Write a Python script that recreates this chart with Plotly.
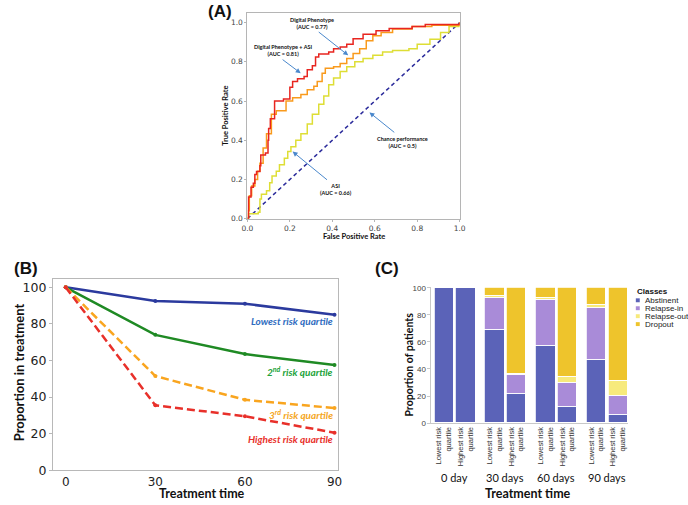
import plotly.graph_objects as go

W, H = 688, 505

# ---- panel A: ROC curves ----
dp_asi_fpr = [0, 0.005, 0.017, 0.028, 0.035, 0.043, 0.059, 0.063, 0.085, 0.097, 0.10, 0.108,
              0.128, 0.17, 0.20, 0.213, 0.236, 0.267, 0.282, 0.306, 0.321, 0.336, 0.383,
              0.406, 0.437, 0.468, 0.498, 0.545, 0.606, 0.668, 0.776, 0.838, 1.0]
dp_asi_tpr = [0, 0.11, 0.16, 0.18, 0.225, 0.24, 0.27, 0.325, 0.335, 0.40, 0.46, 0.51,
              0.60, 0.61, 0.67, 0.70, 0.713, 0.725, 0.76, 0.78, 0.825, 0.84, 0.85,
              0.867, 0.875, 0.89, 0.917, 0.94, 0.958, 0.97, 0.98, 0.99, 1.0]
dp_fpr = [0, 0.005, 0.009, 0.02, 0.035, 0.048, 0.059, 0.074, 0.09, 0.113, 0.136, 0.182,
          0.213, 0.252, 0.282, 0.313, 0.329, 0.352, 0.367, 0.406, 0.437, 0.468, 0.498,
          0.529, 0.56, 0.591, 0.63, 0.684, 0.776, 0.869, 1.0]
dp_tpr = [0, 0.04, 0.117, 0.167, 0.20, 0.242, 0.283, 0.36, 0.433, 0.533, 0.55, 0.60,
          0.617, 0.633, 0.658, 0.675, 0.70, 0.742, 0.767, 0.775, 0.792, 0.817, 0.842,
          0.867, 0.908, 0.933, 0.95, 0.967, 0.98, 0.987, 1.0]
asi_fpr = [0, 0.005, 0.051, 0.059, 0.066, 0.09, 0.105, 0.116, 0.136, 0.151, 0.174, 0.19,
           0.205, 0.228, 0.252, 0.282, 0.306, 0.336, 0.36, 0.383, 0.406, 0.437, 0.468,
           0.506, 0.545, 0.591, 0.637, 0.684, 0.761, 0.80, 0.86, 0.91, 0.95, 1.0]
asi_tpr = [0, 0.025, 0.033, 0.10, 0.125, 0.142, 0.183, 0.217, 0.242, 0.275, 0.308, 0.342,
           0.367, 0.40, 0.433, 0.483, 0.533, 0.583, 0.625, 0.683, 0.717, 0.75, 0.775,
           0.80, 0.817, 0.833, 0.85, 0.858, 0.867, 0.89, 0.915, 0.95, 0.98, 1.0]
chance = [0, 1]

# ---- panel B: proportion in treatment by risk quartile ----
days = [0, 30, 60, 90]
lowest_q = [100, 92.5, 91, 85]
second_q = [100, 74, 63.5, 57.5]
third_q = [100, 51.5, 38.5, 34]
highest_q = [100, 35.5, 29.5, 20.5]

# ---- panel C: outcome classes ----
groups = ["0 day", "30 days", "60 days", "90 days"]
quartiles = ["Lowest risk<br>quartile", "Highest risk<br>quartile"]
abstinent = [100, 100, 69, 22, 57, 12, 46.5, 6]
relapse_in = [0, 0, 24, 13.5, 34.5, 18, 39, 14.5]
relapse_out = [0, 0, 1.5, 1.2, 1.5, 4.3, 1.8, 10.5]
dropout = [0, 0, 5.5, 63.3, 7, 65.7, 12.7, 69]
class_names = ["Abstinent", "Relapse-in", "Relapse-out", "Dropout"]
class_colors = ["#5b63b8", "#a98bd8", "#f7ea7c", "#eec42c"]

LABEL_FONT = "Lato"


def px(x):
    return x / W


def py(y):
    return 1 - y / H


fig = go.Figure()

# A
fig.add_trace(go.Scatter(x=chance, y=chance, mode="lines", xaxis="x", yaxis="y",
                         line=dict(color="#2b2b9b", width=1.5, dash="4px,3px")))
for xs, ys, col in ((asi_fpr, asi_tpr, "#dede35"), (dp_fpr, dp_tpr, "#f99a1c"),
                    (dp_asi_fpr, dp_asi_tpr, "#e8251f")):
    fig.add_trace(go.Scatter(x=xs, y=ys, mode="lines", xaxis="x", yaxis="y",
                             line=dict(color=col, width=1.5, shape="hv")))

# B
b_series = [
    (lowest_q, "#2b3a9e", "solid"),
    (second_q, "#1f8a24", "solid"),
    (third_q, "#f9a51f", "8px,4px"),
    (highest_q, "#e8302a", "8px,4px"),
]
for vals, col, dash in b_series:
    fig.add_trace(go.Scatter(x=days, y=vals, mode="lines+markers", xaxis="x2", yaxis="y2",
                             line=dict(color=col, width=2.5, dash=dash),
                             marker=dict(color=col, size=4)))

# C
bar_x = []
for g in range(len(groups)):
    for i in range(len(quartiles)):
        bar_x.append(g * 2.35 + i)
for vals, name, col in zip((abstinent, relapse_in, relapse_out, dropout), class_names, class_colors):
    fig.add_trace(go.Bar(x=bar_x, y=vals, name=name, xaxis="x3", yaxis="y3", width=0.9,
                         marker=dict(color=col, line=dict(color="white", width=0.8))))

grid_off = dict(showgrid=False, zeroline=False)
fig.update_layout(
    width=W, height=H, margin=dict(l=0, r=0, t=0, b=0),
    plot_bgcolor="white", paper_bgcolor="white",
    showlegend=False, barmode="stack", bargap=0,
    xaxis=dict(domain=[px(245.7), px(461.7)], range=[0, 1], anchor="y",
               tickvals=[0, 0.2, 0.4, 0.6, 0.8, 1.0], tickformat=".1f",
               showline=True, mirror=True, linecolor="#b5b5b5", linewidth=1,
               ticks="outside", ticklen=2, tickcolor="#b5b5b5",
               tickfont=dict(family="DejaVu Sans", size=7.5, color="#444"), **grid_off),
    yaxis=dict(domain=[py(220), py(10)], range=[0, 1.05], anchor="x",
               tickvals=[0, 0.2, 0.4, 0.6, 0.8, 1.0], tickformat=".1f",
               showline=True, mirror=True, linecolor="#b5b5b5", linewidth=1,
               ticks="outside", ticklen=2, tickcolor="#b5b5b5",
               tickfont=dict(family="DejaVu Sans", size=7.5, color="#444"), **grid_off),
    xaxis2=dict(domain=[px(47.7), px(338)], range=[-4.3, 91.2], anchor="y2",
                tickvals=days, showline=True, mirror=True, linecolor="#b8b8b8",
                ticks="",
                tickfont=dict(family="DejaVu Sans", size=12, color="#222"), **grid_off),
    yaxis2=dict(domain=[py(476.7), py(282)], range=[0, 104.3], anchor="x2",
                tickvals=[0, 20, 40, 60, 80, 100], showline=True, mirror=True,
                linecolor="#b8b8b8", ticks="outside", ticklen=3, tickcolor="#b8b8b8",
                tickfont=dict(family="DejaVu Sans", size=12.5, color="#222"), **grid_off),
    xaxis3=dict(domain=[px(433), px(633)], range=[-0.57, 8.52], anchor="y3",
                tickvals=bar_x, ticktext=quartiles * len(groups), tickangle=-90,
                showline=True, linecolor="#c8c8c8", ticks="",
                tickfont=dict(family="Liberation Sans", size=7.5, color="#333"), **grid_off),
    yaxis3=dict(domain=[py(428.5), py(289.5)], range=[0, 100.9], anchor="x3",
                tickvals=[0, 20, 40, 60, 80, 100], showline=True, linecolor="#c8c8c8",
                ticks="outside", ticklen=3, tickcolor="#c8c8c8",
                tickfont=dict(family="Liberation Sans", size=8, color="#444"), **grid_off),
)

ann = []


def text(x, y, s, size, color="#111", bold=True, italic=False, family=LABEL_FONT,
         angle=0, xanchor="center", yanchor="middle", xref="paper", yref="paper"):
    if bold:
        s = f"<b>{s}</b>"
    if italic:
        s = f"<i>{s}</i>"
    ann.append(dict(x=x, y=y, xref=xref, yref=yref, text=s, showarrow=False,
                    textangle=angle, xanchor=xanchor, yanchor=yanchor,
                    font=dict(family=family, size=size, color=color)))


# panel letters
text(px(217.5), py(9), "(A)", 17, family="Liberation Sans")
text(px(20), py(271), "(B)", 17, family="Liberation Sans")
text(px(388), py(271), "(C)", 17, family="Liberation Sans")

# A axis titles + curve labels
text(px(353.7), py(238), "False Positive Rate", 7.5)
text(px(224), py(115), "True Positive Rate", 7.5, angle=-90)
a_labels = [
    (0.306, 0.995, "Digital Phenotype<br>(AUC = 0.77)", 0.475, 0.833, 0.329, 0.958),
    (0.171, 0.86, "Digital Phenotype + ASI<br>(AUC = 0.81)", 0.251, 0.742, 0.159, 0.817),
    (0.73, 0.39, "Chance performance<br>(AUC = 0.5)", 0.575, 0.542, 0.699, 0.434),
    (0.418, 0.15, "ASI<br>(AUC = 0.66)", 0.213, 0.342, 0.382, 0.192),
]
for tx, ty, s, hx, hy, tlx, tly in a_labels:
    text(tx, ty, s, 5.5, xref="x", yref="y")
    ann.append(dict(x=hx, y=hy, ax=tlx, ay=tly, xref="x", yref="y", axref="x", ayref="y",
                    text="", showarrow=True, arrowhead=2, arrowsize=1, arrowwidth=1,
                    arrowcolor="#4a88cc"))

# B axis titles + series labels
text(px(199.3), py(500.5), "Treatment time", 12.5)
text(px(13.3), py(376.7), "Proportion in treatment", 13, angle=-90)
b_labels = [
    (81.6, "Lowest risk quartile", "#2f6cc0"),
    (54.1, "2<sup>nd</sup> risk quartile", "#22a33a"),
    (30.4, "3<sup>rd</sup> risk quartile", "#f5a623"),
    (17.0, "Highest risk quartile", "#e8302a"),
]
for yv, s, col in b_labels:
    text(90.2, yv, s, 10, color=col, italic=True, xanchor="right", xref="x2", yref="y2")

# C axis titles, group labels, legend
text(px(531.7), py(500.5), "Treatment time", 12.5)
text(px(410), py(369), "Proportion of patients", 10.5, angle=-90)
for g, name in enumerate(groups):
    cx = (bar_x[2 * g] + bar_x[2 * g + 1]) / 2
    ann.append(dict(x=cx, y=py(484), xref="x3", yref="paper", text=name, showarrow=False,
                    yanchor="middle", font=dict(family=LABEL_FONT, size=11, color="#111")))

text(px(640), py(294.3), "Classes", 8, family="Liberation Sans", xanchor="left")
shapes = []
for k, (name, col) in enumerate(zip(class_names, class_colors)):
    yy = 303.3 + k * 8.1
    shapes.append(dict(type="rect", xref="paper", yref="paper",
                       x0=px(641), x1=px(645), y0=py(yy + 2), y1=py(yy - 2),
                       fillcolor=col, line=dict(width=0)))
    text(px(648), py(yy), name, 8, color="#222", bold=False, family="Liberation Sans",
         xanchor="left")

fig.update_layout(annotations=ann, shapes=shapes)
# the page's default body margin would push the figure 8px off the window
fig.write_html("out.html", config={"displayModeBar": False},
               post_script="document.body.style.margin='0';")
